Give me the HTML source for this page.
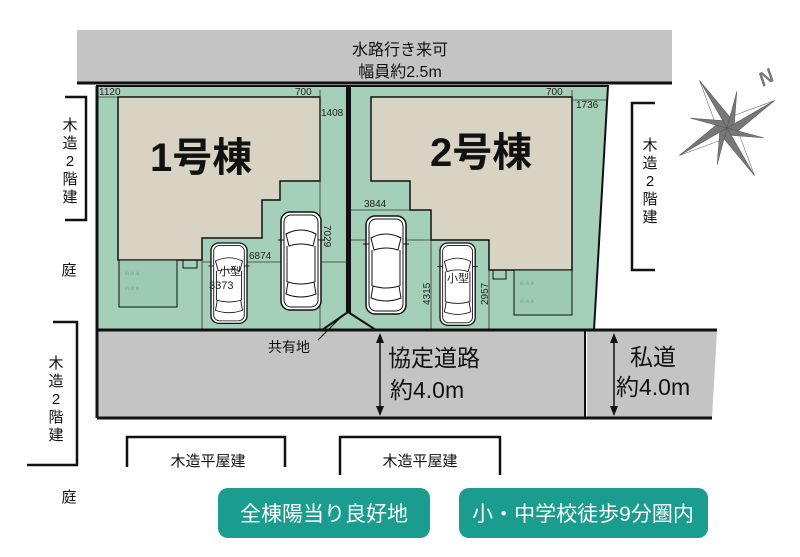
<!DOCTYPE html>
<html><head><meta charset="utf-8"><style>
html,body{margin:0;padding:0;background:#fff;}
svg{display:block;font-family:"Liberation Sans","Noto Sans CJK JP",sans-serif;}
</style></head><body>
<svg width="800" height="557" viewBox="0 0 800 557" xmlns="http://www.w3.org/2000/svg">
<defs>
<g id="car">
<rect x="0" y="0" width="40" height="98" rx="9" fill="#fff" stroke="#111" stroke-width="1.5"/>
<rect x="3" y="3" width="34" height="92" rx="7" fill="none" stroke="#111" stroke-width="1"/>
<path d="M5 22 Q20 14 35 22 L32 34 Q20 30 8 34 Z" fill="#fff" stroke="#111"/>
<path d="M7 70 Q20 74 33 70 L35 82 Q20 88 5 82 Z" fill="#fff" stroke="#111"/>
<line x1="6" y1="34" x2="6" y2="70" stroke="#111"/><line x1="34" y1="34" x2="34" y2="70" stroke="#111"/>
<line x1="-3" y1="28" x2="3" y2="28" stroke="#111"/><line x1="37" y1="28" x2="43" y2="28" stroke="#111"/>
</g>
</defs>
<!-- waterway -->
<rect x="77" y="30" width="595" height="53" fill="#c4c4c4"/>
<line x1="77" y1="83" x2="672" y2="83" stroke="#111" stroke-width="3"/>
<text x="400" y="55" font-size="16" text-anchor="middle" fill="#111">水路行き来可</text>
<text x="400" y="77" font-size="16" text-anchor="middle" fill="#111">幅員約2.5m</text>
<!-- lots -->
<polygon points="97,86 348,86 348,330 97,330" fill="#a4cfb8" stroke="#111" stroke-width="2"/>
<polygon points="350,86 608,86 594,330 350,330" fill="#a4cfb8" stroke="#111" stroke-width="2"/>
<line x1="348" y1="86" x2="348" y2="312" stroke="#111" stroke-width="4"/>
<polygon points="348,312 322,330 376,330" fill="#a4cfb8" stroke="#111" stroke-width="2"/>
<!-- houses -->
<polygon points="118,97 320,97 320,181 280,181 280,200 262,200 262,238 202,238 202,260 118,260" fill="#d9d3c4" stroke="#111" stroke-width="1.5"/>
<polygon points="371,97 572,97 572,270 489,270 489,240 431,240 431,210 410,210 410,181 371,181" fill="#d9d3c4" stroke="#111" stroke-width="1.5"/>
<rect x="119" y="260" width="58" height="47" fill="#9ccab2" stroke="#111"/>
<rect x="183" y="260" width="14" height="8" fill="none" stroke="#111"/>
<rect x="514" y="270" width="58" height="45" fill="#9ccab2" stroke="#111"/>
<rect x="493" y="270" width="13" height="9" fill="none" stroke="#111"/>
<g fill="#6a9" font-size="5"><text x="125" y="275">ılı ılı ılı</text><text x="125" y="290">ılı ılı ılı</text><text x="520" y="285">ılı ılı ılı</text><text x="520" y="303">ılı ılı ılı</text></g>
<!-- dimension lines -->
<g stroke="#333" stroke-width="0.8" fill="none">
<line x1="97" y1="97" x2="118" y2="97"/><line x1="320" y1="90" x2="320" y2="97"/>
<line x1="202" y1="260" x2="202" y2="330"/><line x1="202" y1="262" x2="348" y2="262"/>
<line x1="320" y1="97" x2="320" y2="330"/>
<line x1="350" y1="210" x2="410" y2="210"/><line x1="350" y1="240" x2="431" y2="240"/>
<line x1="431" y1="240" x2="431" y2="330"/><line x1="489" y1="270" x2="489" y2="330"/>
<line x1="572" y1="90" x2="572" y2="97"/><line x1="572" y1="100" x2="606" y2="100"/>
</g>
<g font-size="10" fill="#222">
<text x="99" y="95">1120</text><text x="295" y="95">700</text><text x="321" y="116">1408</text>
<text x="546" y="95">700</text><text x="576" y="108">1736</text>
<text x="249" y="259">6874</text><text x="364" y="207">3844</text><text x="369" y="249">6573</text>
<text transform="translate(324,225) rotate(90)">7029</text>
<text transform="translate(430,305) rotate(-90)">4315</text>
<text transform="translate(488,305) rotate(-90)">2957</text>
</g>
<!-- cars -->
<use href="#car" transform="translate(211,243) scale(0.9,0.82)"/>
<use href="#car" transform="translate(281,212)"/>
<use href="#car" transform="translate(366,216)"/>
<use href="#car" transform="translate(440,243) scale(0.88,0.84)"/>
<g font-size="11" fill="#222"><text x="219" y="275">小型</text><text x="209" y="289">3373</text><text x="447" y="282">小型</text></g>
<!-- road -->
<rect x="97" y="331" width="488" height="87" fill="#c4c4c4"/>
<polygon points="587,331 717,331 712,418 587,418" fill="#c4c4c4"/>
<line x1="97" y1="330" x2="717" y2="330" stroke="#111" stroke-width="3"/>
<line x1="97" y1="418" x2="712" y2="418" stroke="#111" stroke-width="3"/>
<line x1="97" y1="86" x2="97" y2="418" stroke="#111" stroke-width="3"/>
<line x1="585" y1="330" x2="585" y2="418" stroke="#111" stroke-width="2"/>
<line x1="318" y1="340" x2="340" y2="318" stroke="#111" stroke-width="1.2"/>
<text x="268" y="352" font-size="14" fill="#111">共有地</text>
<g stroke="#111" stroke-width="1.5"><line x1="380" y1="336" x2="380" y2="413"/><line x1="614" y1="336" x2="614" y2="413"/></g>
<g fill="#111"><polygon points="380,333 376,343 384,343"/><polygon points="380,416 376,406 384,406"/><polygon points="614,333 610,343 618,343"/><polygon points="614,416 610,406 618,406"/></g>
<g font-size="23" fill="#111"><text x="388" y="366">協定道路</text><text x="390" y="398">約4.0m</text>
<text x="630" y="365">私道</text><text x="616" y="395">約4.0m</text></g>
<!-- neighbors -->
<g stroke="#111" stroke-width="2.5" fill="none">
<polyline points="65,97 86,97 86,220 65,220"/>
<polyline points="53,322 77,322 77,465 27,465"/>
<polyline points="655,103 632,103 632,270 655,270"/>
<polyline points="127,467 127,437 285,437 285,467"/>
<polyline points="340,475 340,437 500,437 500,475"/>
</g>
<g font-size="15" fill="#111" text-anchor="middle">
<text x="70" y="130">木</text><text x="70" y="148">造</text><text x="70" y="166">2</text><text x="70" y="184">階</text><text x="70" y="202">建</text>
<text x="56" y="368">木</text><text x="56" y="386">造</text><text x="56" y="404">2</text><text x="56" y="422">階</text><text x="56" y="440">建</text>
<text x="650" y="150">木</text><text x="650" y="168">造</text><text x="650" y="186">2</text><text x="650" y="204">階</text><text x="650" y="222">建</text>
<text x="69" y="275">庭</text><text x="69" y="502">庭</text>
<text x="208" y="466">木造平屋建</text><text x="420" y="466">木造平屋建</text>
</g>
<text x="150" y="171" font-size="40" font-weight="bold" fill="#111">1号棟</text>
<text x="430" y="166" font-size="40" font-weight="bold" fill="#111">2号棟</text>
<!-- buttons -->
<rect x="218" y="488" width="212" height="50" rx="10" fill="#1a9c8e"/>
<rect x="459" y="488" width="249" height="50" rx="10" fill="#1a9c8e"/>
<text x="324" y="521" font-size="21" fill="#fff" text-anchor="middle">全棟陽当り良好地</text>
<text x="583" y="521" font-size="21" fill="#fff" text-anchor="middle">小・中学校徒歩9分圏内</text>
<!-- compass -->
<g transform="translate(727,128) rotate(-30)" fill="#777" stroke="#555" stroke-width="0.5">
<polygon points="0,-55 8,-8 0,0"/><polygon points="0,-55 -8,-8 0,0" fill="#fff"/>
<polygon points="0,55 -8,8 0,0"/><polygon points="0,55 8,8 0,0" fill="#fff"/>
<polygon points="55,0 8,8 0,0"/><polygon points="55,0 8,-8 0,0" fill="#fff"/>
<polygon points="-55,0 -8,-8 0,0"/><polygon points="-55,0 -8,8 0,0" fill="#fff"/>
<g transform="rotate(45)"><polygon points="0,-38 6,-6 0,0"/><polygon points="0,38 -6,6 0,0"/><polygon points="38,0 6,6 0,0"/><polygon points="-38,0 -6,-6 0,0"/></g>
</g>
<text x="760" y="85" font-size="20" font-style="italic" font-weight="bold" fill="#777" transform="rotate(-30 765 80)">N</text>
</svg>
</body></html>
